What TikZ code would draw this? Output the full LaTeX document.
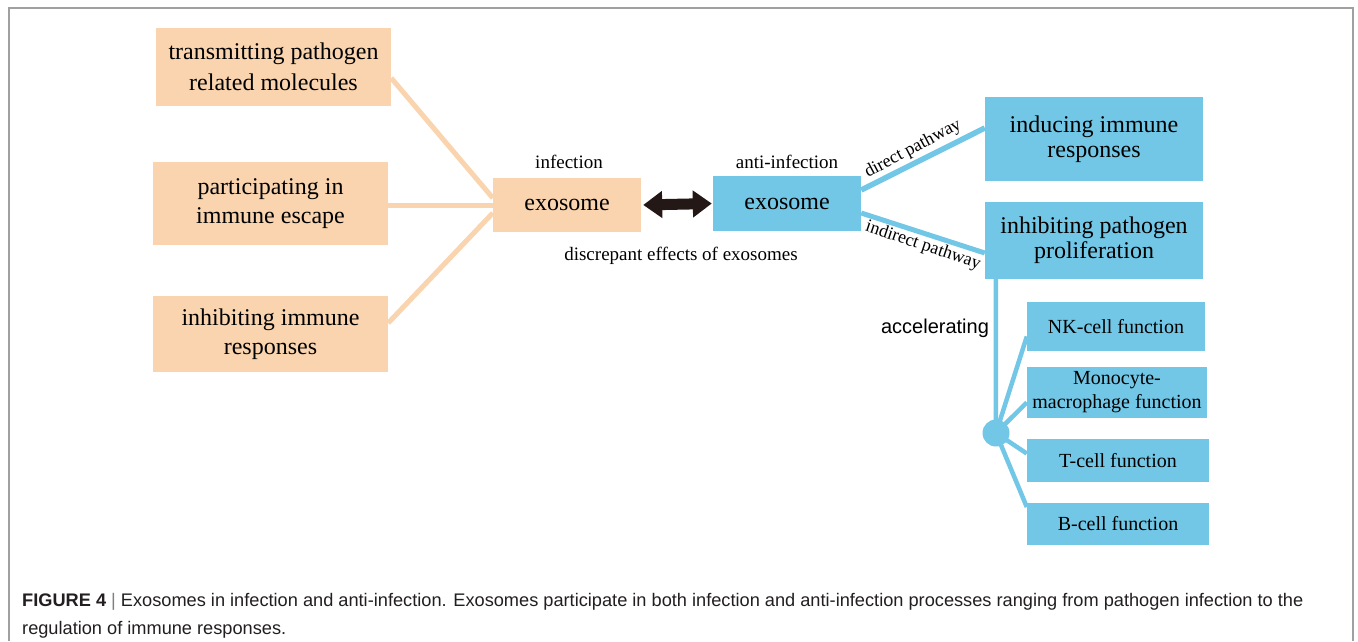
\documentclass[tikz,border=0pt]{standalone}
\usepackage{fontspec}
\setmainfont{Liberation Serif}
\setsansfont{Liberation Sans}
\usetikzlibrary{calc,arrows.meta}
\definecolor{peach}{RGB}{249,212,174}
\definecolor{skyb}{RGB}{114,199,230}
\definecolor{framegray}{RGB}{160,160,160}
\definecolor{darkarrow}{RGB}{35,24,21}
\definecolor{captext}{RGB}{35,31,32}
\begin{document}
\begin{tikzpicture}[x=1pt,y=-1pt,
  pbox/.style={fill=peach,draw=none,inner sep=0pt,align=center,font=\fontsize{24}{30}\selectfont},
  bbox/.style={fill=skyb,draw=none,inner sep=0pt,align=center,font=\fontsize{24}{25}\selectfont},
  sbox/.style={fill=skyb,draw=none,inner sep=0pt,align=center,font=\fontsize{20}{24}\selectfont},
  plink/.style={draw=peach,line width=5pt},
  blink/.style={draw=skyb,line width=4.5pt},
  lbl/.style={inner sep=0pt,font=\fontsize{19}{22}\selectfont},
  plbl/.style={inner sep=0pt,font=\fontsize{18}{20}\selectfont},
  captxt/.style={anchor=base west,inner sep=0pt,text=captext,font=\sffamily\fontsize{18.2}{20}\selectfont}]
\useasboundingbox (0,0) rectangle (1358,641);
\fill[white] (0,0) rectangle (1358,641);
\draw[framegray,line width=1.5pt] (9,641) -- (9,8) -- (1353,8) -- (1353,641);

% left boxes
\node[pbox,minimum width=235pt,minimum height=78pt,font=\fontsize{24}{31}\selectfont] (A) at (273.5,67) {transmitting pathogen\\related molecules};
\node[pbox,minimum width=235pt,minimum height=83pt,font=\fontsize{24}{29}\selectfont] (B) at (270.5,203.5) {participating in\\immune escape};
\node[pbox,minimum width=235pt,minimum height=76pt,font=\fontsize{24}{29}\selectfont] (C) at (270.5,334) {inhibiting immune\\responses};
\node[pbox,minimum width=148pt,minimum height=54pt] (X1) at (567,205) {exosome};
\node[bbox,minimum width=148pt,minimum height=55pt] (X2) at (787,203.5) {exosome};

\node[lbl] (inf) at (569,162) {infection};
\node[lbl] (ainf) at (787,162) {anti-infection};
\node[lbl] (disc) at (681,256) {discrepant effects of exosomes};

% right boxes
\node[bbox,minimum width=218pt,minimum height=84pt] (D) at (1094,139) {inducing immune\\responses};
\node[bbox,minimum width=218pt,minimum height=77pt] (E) at (1094,240.5) {inhibiting pathogen\\proliferation};

\node[sbox,minimum width=178pt,minimum height=49pt] (NK) at (1116,326.5) {NK-cell function};
\node[sbox,minimum width=180pt,minimum height=51pt,font=\fontsize{20}{24}\selectfont] (MO) at (1117,392.5) {Monocyte-\\macrophage function};
\node[sbox,minimum width=182pt,minimum height=43pt] (TC) at (1118,460.5) {T-cell function};
\node[sbox,minimum width=182pt,minimum height=42pt] (BC) at (1118,524) {B-cell function};

\node[circle,fill=skyb,inner sep=0pt,minimum size=27pt] (hub) at (996,433) {};

% peach connectors
\draw[plink] ($(A.east)+(0,11)$) -- ($(X1.west)+(0,-7)$);
\draw[plink] ($(B.east)+(0,1.5)$) -- (X1.west);
\draw[plink] ($(C.east)+(0,-11)$) -- ($(X1.west)+(0,8)$);

% double arrow
\draw[darkarrow,line width=11pt,shorten <=2pt,shorten >=1pt,
  {Triangle[length=19pt,width=26pt]}-{Triangle[length=19pt,width=26pt]}] (X1.east) -- (X2.west);

% blue connectors
\draw[blink,line width=5.5pt] ($(X2.east)+(0,-13.5)$) -- ($(D.west)+(0,-11)$);
\draw[blink,line width=5pt] ($(X2.east)+(0,9.5)$) -- ($(E.west)+(0,12.5)$);
\draw[blink] ($(E.south west)+(11,0)$) -- (hub.center);
\draw[blink] (hub.center) -- ($(NK.west)+(0,10)$);
\draw[blink] (hub.center) -- ($(MO.west)+(0,10)$);
\draw[blink] (hub.center) -- ($(TC.west)+(0,-7)$);
\draw[blink] (hub.center) -- ($(BC.west)+(0,-17)$);

\node[plbl,rotate=28] (dp) at (913,149) {direct pathway};
\node[plbl,rotate=-18.5] (ip) at (923,246) {indirect pathway};
\node[inner sep=0pt,font=\sffamily\fontsize{20}{22}\selectfont] (acc) at (935,328) {accelerating};

% caption
\node[captxt] (cap1) at (22,606)
  {\textbf{FIGURE 4} \textcolor{gray}{|} Exosomes in infection and anti-infection. Exosomes participate in both infection and anti-infection processes ranging from pathogen infection to the};
\node[captxt] (cap2) at (22,634)
  {regulation of immune responses.};
\end{tikzpicture}
\end{document}
